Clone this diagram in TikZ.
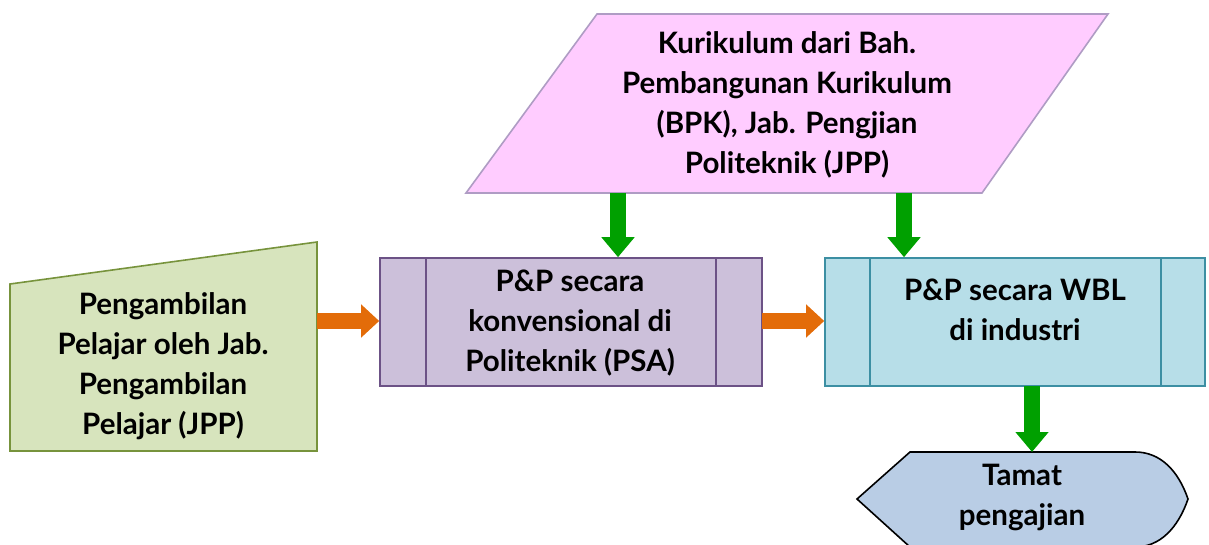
\documentclass[tikz,border=0pt]{standalone}
\usepackage{fontspec}
\setmainfont{Lato}
\usetikzlibrary{arrows.meta}
\definecolor{pinkfill}{HTML}{FFCCFF}
\definecolor{pinkline}{HTML}{AF9CC4}
\definecolor{greenfill}{HTML}{D7E4BD}
\definecolor{greenline}{HTML}{77933C}
\definecolor{purplefill}{HTML}{CCC0DA}
\definecolor{purpleline}{HTML}{6C5286}
\definecolor{bluefill}{HTML}{B7DEE8}
\definecolor{blueline}{HTML}{3C8FA3}
\definecolor{dispfill}{HTML}{B9CDE5}
\definecolor{orangearr}{HTML}{E36C09}
\definecolor{greenarr}{HTML}{00A000}
\begin{document}
\begin{tikzpicture}[x=1pt,y=-1pt,
  shapeline/.style={line width=1.6pt},
  label/.style={align=center,font=\fontsize{29.5}{40}\selectfont\bfseries,inner sep=0pt},
  procbox/.style={shapeline,minimum width=382pt,minimum height=128pt,inner sep=0pt},
  oarrow/.style={draw=orangearr,line width=16pt,-{Triangle[width=32pt,length=18pt]}},
  garrow/.style={draw=greenarr,line width=16pt,-{Triangle[width=32pt,length=20pt]}}]
\useasboundingbox (0,0) rectangle (1209,545);
% parallelogram
\coordinate (k1) at (597,14);
\coordinate (k2) at (1108,14);
\coordinate (k3) at (982,193);
\coordinate (k4) at (466,193);
\draw[shapeline,fill=pinkfill,draw=pinkline] (k1) -- (k2) -- (k3) -- (k4) -- cycle;
\node[label] (kur) at (787,105) {Kurikulum dari Bah.\\Pembangunan Kurikulum\\(BPK), Jab. Pengjian\\Politeknik (JPP)};
% manual input
\coordinate (m1) at (10,284);
\coordinate (m2) at (317,242);
\coordinate (m3) at (317,451);
\coordinate (m4) at (10,451);
\draw[shapeline,fill=greenfill,draw=greenline] (m1) -- (m2) -- (m3) -- (m4) -- cycle;
\node[label] (amb) at (163,366) {Pengambilan\\Pelajar oleh Jab.\\Pengambilan\\Pelajar (JPP)};
% purple predefined process
\node[procbox,fill=purplefill,draw=purpleline] (psa) at (571,322) {};
\draw[shapeline,draw=purpleline] ([xshift=47pt]psa.north west) -- ([xshift=47pt]psa.south west);
\draw[shapeline,draw=purpleline] ([xshift=-47pt]psa.north east) -- ([xshift=-47pt]psa.south east);
\node[label] (psatxt) at (570,323) {P\&P secara\\konvensional di\\Politeknik (PSA)};
% blue predefined process
\node[procbox,fill=bluefill,draw=blueline,minimum width=380pt] (wbl) at (1015,322) {};
\draw[shapeline,draw=blueline] ([xshift=46pt]wbl.north west) -- ([xshift=46pt]wbl.south west);
\draw[shapeline,draw=blueline] ([xshift=-45pt]wbl.north east) -- ([xshift=-45pt]wbl.south east);
\node[label] (wbltxt) at (1015,310) {P\&P secara WBL\\di industri};
% display
\coordinate (d1) at (857,499);
\coordinate (d2) at (910,452);
\coordinate (d3) at (1135,452);
\coordinate (d4) at (1188,499);
\coordinate (d5) at (1135,547);
\coordinate (d6) at (910,547);
\draw[shapeline,fill=dispfill,draw=black] (d1) -- (d2) -- (d3) .. controls (1160,452) and (1178,470) .. (d4) .. controls (1178,528) and (1160,547) .. (d5) -- (d6) -- cycle;
\node[label] (tamat) at (1022,497) {Tamat\\pengajian};
% arrows
\coordinate (a1s) at (317,321);
\coordinate (a2s) at (762,321);
\draw[oarrow] (a1s) -- (a1s -| psa.west);
\draw[oarrow] (a2s) -- (a2s -| wbl.west);
\coordinate (g1s) at (618,193);
\coordinate (g2s) at (904,193);
\draw[garrow] (g1s) -- (g1s |- psa.north);
\draw[garrow] (g2s) -- (g2s |- wbl.north);
\coordinate (g3s) at (1032,386);
\draw[garrow] (g3s) -- (g3s |- d2);
\end{tikzpicture}
\end{document}
